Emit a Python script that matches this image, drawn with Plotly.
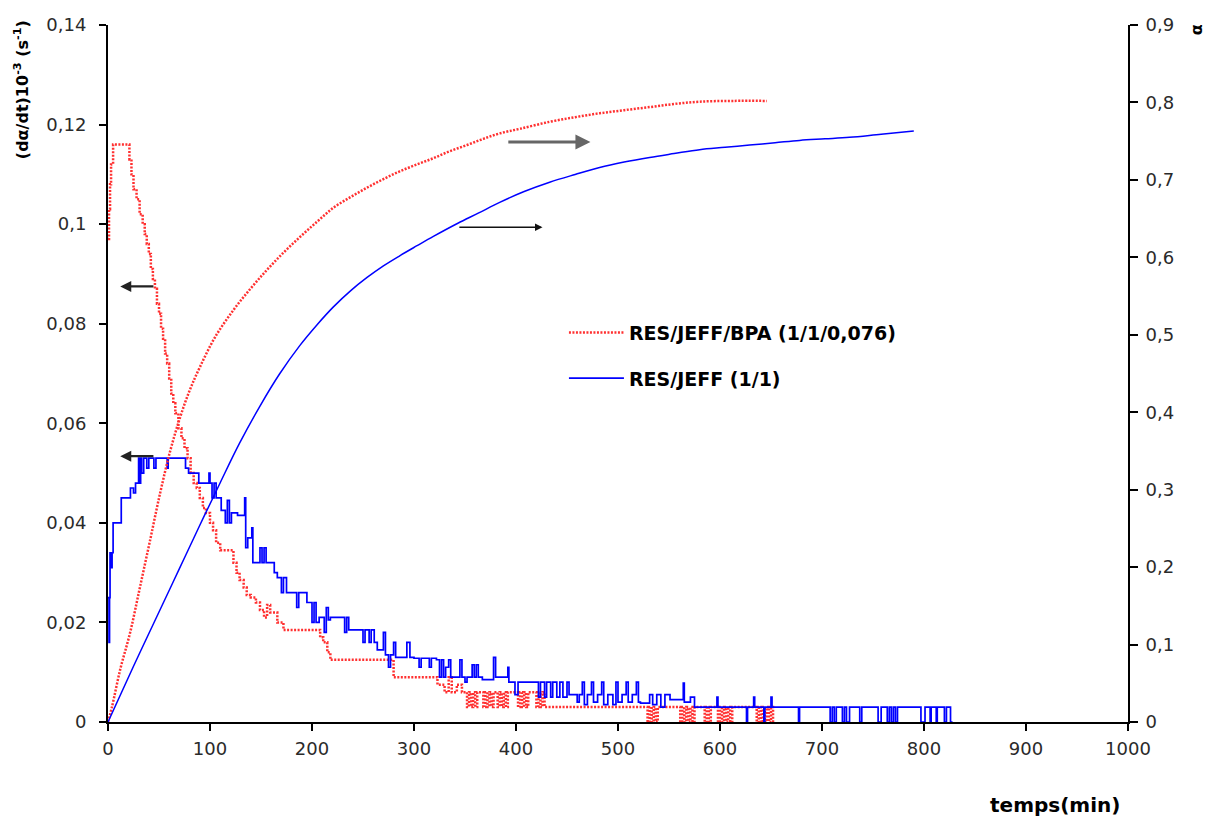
import plotly.graph_objects as go

# ---------------- data ----------------
# rate curves (left axis, (dα/dt)10^-3 s^-1), step data
red_rate_t = [0, 1, 2, 3, 5, 19, 21, 23, 25, 28, 31, 34, 36, 38, 40, 42, 44, 46, 48, 50, 52, 54, 56, 58,
              60, 62, 64, 66, 69, 72, 75, 78, 81, 84, 87, 90, 93, 96, 100, 103, 106, 110, 123, 126, 129,
              133, 136, 140, 145, 149, 153, 156, 159, 166, 172, 205, 208, 211, 215, 218, 276, 280,
              323, 330, 334, 337, 342, 347, 352, 354, 356, 358, 360, 362, 366, 368, 370, 372, 374, 376,
              378, 382, 384, 386, 388, 390, 392, 402, 404, 406, 408, 410, 412, 420, 422, 424, 426, 428,
              528, 529, 531, 533, 535, 537, 539, 561, 563, 565, 567, 569, 571, 573, 575, 585, 587, 589,
              591, 598, 600, 602, 604, 606, 608, 610, 612, 636, 638, 640, 642, 644, 646, 648, 650, 652]
red_rate_v = [0.097, 0.103, 0.108, 0.112, 0.116, 0.116, 0.113, 0.110, 0.107, 0.105, 0.102, 0.100, 0.098,
              0.096, 0.094, 0.091, 0.089, 0.087, 0.084, 0.082, 0.079, 0.077, 0.074, 0.072, 0.069, 0.066,
              0.064, 0.062, 0.059, 0.057, 0.055, 0.053, 0.050, 0.048, 0.047, 0.045, 0.043, 0.042, 0.040,
              0.0385, 0.036, 0.0345, 0.032, 0.030, 0.0285, 0.027, 0.0255, 0.025, 0.024, 0.0225, 0.021,
              0.0235, 0.022, 0.020, 0.0185, 0.0185, 0.017, 0.016, 0.014, 0.0125, 0.0125, 0.009,
              0.0075, 0.006, 0.009, 0.006, 0.0075, 0.006, 0.003, 0.006, 0.003, 0.006, 0.003, 0.006,
              0.006, 0.003, 0.006, 0.003, 0.006, 0.003, 0.006, 0.003, 0.006, 0.003, 0.006, 0.003, 0.006,
              0.003, 0.006, 0.003, 0.006, 0.003, 0.006, 0.003, 0.006, 0.003, 0.006, 0.003,
              0.003, 0.0, 0.003, 0.0, 0.003, 0.0, 0.003, 0.0, 0.003, 0.0, 0.003, 0.0, 0.003, 0.0, 0.003,
              0.0, 0.003, 0.0, 0.003, 0.0, 0.003, 0.0, 0.003, 0.0, 0.003, 0.0, 0.003, 0.0, 0.003, 0.0,
              0.003, 0.0, 0.003, 0.0, 0.003, 0.0]

blue_rate_t = [0, 1, 1.5, 2, 3, 4, 5, 13, 22, 25, 27, 30, 31, 32, 33, 35, 38, 40, 45, 47, 58, 59, 76, 79,
               89, 99, 100, 102, 104, 106, 111, 115, 117, 119, 121, 127, 134, 135, 137, 141, 142, 149,
               151, 153, 155, 163, 166, 170, 172, 175, 185, 187, 195, 200, 202, 204, 207, 212, 214, 216,
               218, 232, 234, 236, 250, 252, 256, 258, 261, 264, 270, 272, 275, 277, 280, 282, 293, 296,
               300, 305, 307, 315, 317, 322, 325, 327, 329, 331, 334, 336, 345, 347, 350, 352, 357, 359,
               361, 363, 367, 378, 380, 392, 393, 399, 402, 422, 424, 428, 430, 434, 436, 440, 443, 446,
               450, 452, 460, 462, 465, 467, 470, 474, 476, 480, 484, 486, 490, 495, 498, 500, 504, 508,
               510, 514, 518, 520, 522, 531, 534, 538, 542, 546, 551, 564, 565, 571, 575, 597, 598, 626,
               627, 633, 634, 643, 644, 650, 651, 677, 678, 708, 710, 712, 714, 720, 722, 724, 727, 737,
               739, 755, 758, 764, 766, 768, 770, 772, 774, 797, 801, 806, 807, 812, 813, 820, 822, 826,
               828]
blue_rate_v = [0.025, 0.016, 0.025, 0.034, 0.031, 0.034, 0.040, 0.045, 0.047, 0.046, 0.048, 0.053, 0.048,
               0.053, 0.050, 0.053, 0.051, 0.053, 0.051, 0.053, 0.051, 0.053, 0.051, 0.050, 0.048, 0.050,
               0.048, 0.045, 0.048, 0.045, 0.0425, 0.040, 0.0445, 0.040, 0.042, 0.0415, 0.045, 0.035,
               0.037, 0.039, 0.032, 0.035, 0.032, 0.035, 0.032, 0.030, 0.029, 0.026, 0.029, 0.026, 0.023,
               0.026, 0.024, 0.020, 0.024, 0.020, 0.021, 0.018, 0.023, 0.0205, 0.021, 0.018, 0.021, 0.0185,
               0.016, 0.0185, 0.016, 0.0185, 0.016, 0.0145, 0.018, 0.0135, 0.011, 0.0135, 0.016, 0.013,
               0.016, 0.013, 0.0128, 0.011, 0.0128, 0.011, 0.0128, 0.0125, 0.009, 0.0125, 0.009, 0.011,
               0.0125, 0.009, 0.0125, 0.009, 0.008, 0.009, 0.0115, 0.009, 0.0115, 0.009, 0.0085, 0.013,
               0.009, 0.011, 0.008, 0.0055, 0.008, 0.005, 0.008, 0.005, 0.008, 0.005, 0.008, 0.005, 0.008,
               0.005, 0.008, 0.0055, 0.004, 0.0055, 0.008, 0.0035, 0.0055, 0.008, 0.004, 0.0055, 0.008,
               0.0035, 0.0055, 0.0035, 0.008, 0.004, 0.0055, 0.008, 0.004, 0.0055, 0.008, 0.004, 0.0038,
               0.0055, 0.0035, 0.0055, 0.003, 0.0055, 0.0045, 0.0078, 0.004, 0.005, 0.003, 0.005, 0.003,
               0.0, 0.003, 0.005, 0.003, 0.0, 0.003, 0.005, 0.003, 0.0, 0.003, 0.0, 0.003, 0.0, 0.003,
               0.0, 0.003, 0.0, 0.003, 0.0, 0.003, 0.0, 0.003, 0.0, 0.003, 0.0, 0.003, 0.0, 0.003, 0.0,
               0.003, 0.0, 0.003, 0.0, 0.003, 0.0, 0.003, 0.0, 0.0]

# conversion curves (right axis, α)
red_alpha_t = [0, 4, 12, 21.6, 31, 41, 51, 61, 70.6, 80, 90, 105, 123, 140, 156, 172, 188, 205, 221,
               238, 254, 270, 286, 303, 319, 335, 352, 368, 384, 404, 433, 458, 482, 506, 531, 555, 580,
               613, 646]
red_alpha_v = [0, 0.02, 0.068, 0.115, 0.172, 0.233, 0.295, 0.35, 0.393, 0.428, 0.458, 0.497, 0.532,
               0.56, 0.584, 0.606, 0.626, 0.646, 0.664, 0.678, 0.69, 0.701, 0.711, 0.72, 0.728, 0.737,
               0.745, 0.753, 0.76, 0.766, 0.775, 0.781, 0.786, 0.79, 0.794, 0.798, 0.801, 0.802, 0.802]

blue_alpha_t = [0, 25, 50, 70, 90, 110, 129, 149, 168, 188, 205, 221, 238, 254, 270, 286, 303, 319,
                343, 363, 384, 408, 433, 458, 482, 506, 531, 555, 580, 605, 629, 654, 678, 703, 727,
                758, 790]
blue_alpha_v = [0, 0.072, 0.142, 0.198, 0.254, 0.309, 0.36, 0.408, 0.449, 0.486, 0.513, 0.536, 0.557,
                0.574, 0.589, 0.602, 0.615, 0.627, 0.644, 0.657, 0.671, 0.685, 0.697, 0.707, 0.716,
                0.723, 0.729, 0.734, 0.739, 0.742, 0.745, 0.748, 0.751, 0.753, 0.755, 0.759, 0.763]

legend_names = ["RES/JEFF/BPA (1/1/0,076)", "RES/JEFF (1/1)"]

x_ticks = [0, 100, 200, 300, 400, 500, 600, 700, 800, 900, 1000]
y_ticks = [0, 0.02, 0.04, 0.06, 0.08, 0.1, 0.12, 0.14]
y_tick_text = ["0", "0,02", "0,04", "0,06", "0,08", "0,1", "0,12", "0,14"]
y2_ticks = [0, 0.1, 0.2, 0.3, 0.4, 0.5, 0.6, 0.7, 0.8, 0.9]
y2_tick_text = ["0", "0,1", "0,2", "0,3", "0,4", "0,5", "0,6", "0,7", "0,8", "0,9"]

# ---------------- figure ----------------
RED = "#FF3030"
BLUE = "#0000FF"
FONT = "DejaVu Sans"

fig = go.Figure()
fig.add_trace(go.Scatter(x=red_rate_t, y=red_rate_v, mode="lines", line_shape="hv",
                         line=dict(color=RED, width=2.5, dash="2px,1.5px"),
                         name=legend_names[0], legendgroup="a", yaxis="y"))
fig.add_trace(go.Scatter(x=blue_rate_t, y=blue_rate_v, mode="lines", line_shape="hv",
                         line=dict(color=BLUE, width=1.7),
                         name=legend_names[1], legendgroup="b", yaxis="y"))
fig.add_trace(go.Scatter(x=red_alpha_t, y=red_alpha_v, mode="lines", line_shape="spline",
                         line=dict(color=RED, width=2.5, dash="2px,1.5px"),
                         showlegend=False, yaxis="y2"))
fig.add_trace(go.Scatter(x=blue_alpha_t, y=blue_alpha_v, mode="lines", line_shape="spline",
                         line=dict(color=BLUE, width=1.5),
                         showlegend=False, yaxis="y2"))

tickfont = dict(family=FONT, size=18, color="#2a2a2a")
fig.update_layout(
    width=1212, height=820,
    margin=dict(l=108, r=84, t=25, b=98),
    plot_bgcolor="white", paper_bgcolor="white",
    xaxis=dict(range=[0, 1000], tickvals=x_ticks, ticks="outside", ticklen=7, tickwidth=1.5,
               tickcolor="black", showline=True, linecolor="black", linewidth=2,
               showgrid=False, zeroline=False, tickfont=tickfont, ticklabelstandoff=2),
    yaxis=dict(range=[0, 0.14], tickvals=y_ticks, ticktext=y_tick_text, ticks="outside",
               ticklen=7, tickwidth=1.5, tickcolor="black", showline=True, linecolor="black",
               linewidth=2, showgrid=False, zeroline=False, tickfont=tickfont, ticklabelstandoff=9),
    yaxis2=dict(range=[0, 0.9], tickvals=y2_ticks, ticktext=y2_tick_text, overlaying="y",
                side="right", ticks="outside", ticklen=8, tickwidth=1.5, tickcolor="black",
                showline=True, linecolor="black", linewidth=2, showgrid=False, zeroline=False,
                tickfont=tickfont, ticklabelstandoff=4),
    legend=dict(x=0.447, y=0.586, xanchor="left", yanchor="top", bgcolor="rgba(0,0,0,0)",
                font=dict(family=FONT, size=19, color="black", weight="bold"),
                tracegroupgap=18, itemwidth=55),
    showlegend=True,
)

titlefont = dict(family=FONT, size=16, color="black", weight="bold")
fig.add_annotation(text="(dα/dt)10<sup>-3</sup> (s<sup>-1</sup>)", xref="paper", yref="paper",
                   x=-0.084, y=0.907, xanchor="center", yanchor="middle", textangle=-90,
                   showarrow=False, font=titlefont)
fig.add_annotation(text="α", xref="paper", yref="paper", x=1.068, y=0.993, xanchor="center",
                   yanchor="middle", textangle=-90, showarrow=False, font=titlefont)
fig.add_annotation(text="temps(min)", xref="paper", yref="paper", x=0.928, y=-0.119,
                   xanchor="center", yanchor="middle", showarrow=False,
                   font=dict(family=FONT, size=20, color="black", weight="bold"))

# arrows pointing to the axis each curve belongs to
arrow_specs = [
    # (head_t, tail_t, level, axis, color, width)
    (12, 46, 0.0875, "y", "#222222", 2.2),
    (12, 46, 0.0534, "y", "#222222", 2.2),
    (473, 391, 0.749, "y2", "#666666", 3),
    (426, 343, 0.639, "y2", "#111111", 1.5),
]
for head, tail, lvl, ax, col, w in arrow_specs:
    fig.add_annotation(x=head, y=lvl, ax=tail, ay=lvl, xref="x", yref=ax, axref="x", ayref=ax,
                       showarrow=True, arrowhead=2, arrowsize=1, arrowwidth=w, arrowcolor=col,
                       text="")

fig.write_html("out.html", config={"displayModeBar": False},
               post_script="document.body.style.margin='0';")
